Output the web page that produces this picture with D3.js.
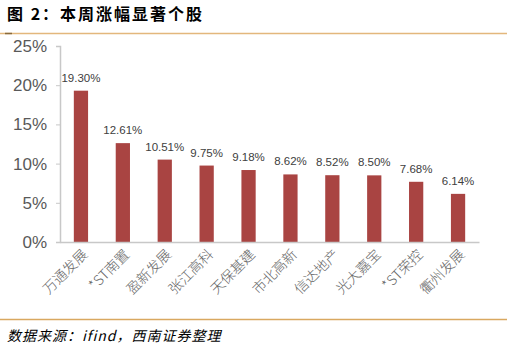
<!DOCTYPE html>
<html lang="zh">
  <head>
    <meta charset="utf-8">
    <title>本周涨幅显著个股</title>
    <script type="text/javascript" src="https://cdn.jsdelivr.net/npm/d3@7"></script>
    <style>
      body { margin: 0; background: #fff; }
      svg { display: block; }
      .title { font-family: "Noto Sans CJK SC", sans-serif; font-weight: bold; font-size: 16px; letter-spacing: 2px; fill: #000; }
      .source { font-family: "Noto Sans CJK SC", sans-serif; font-style: italic; font-size: 14px; letter-spacing: 1px; fill: #000; }
      .axis-text { font-family: "Liberation Sans", Arial, sans-serif; font-size: 17px; fill: #595959; }
      .x-text { font-family: "Noto Sans CJK SC", sans-serif; font-size: 14px; font-weight: 300; fill: #666; }
      .bar-label { font-family: "Liberation Sans", Arial, sans-serif; font-size: 11.5px; fill: #404040; }
    </style>
  </head>
  <body>
    <script type="text/javascript">
      var stocks = ["万通发展", "*ST南置", "盈新发展", "张江高科", "天保基建", "市北高新", "信达地产", "光大嘉宝", "*ST荣控", "衢州发展"];
      var gains = [19.30, 12.61, 10.51, 9.75, 9.18, 8.62, 8.52, 8.50, 7.68, 6.14];
      var yTicks = [0, 5, 10, 15, 20, 25];

      var w = 507;
      var h = 351;
      var plotLeft = 60, plotRight = 479, plotTop = 46, plotBottom = 242;

      var svg = d3.select("body")
        .append("svg")
        .attr("width", w)
        .attr("height", h);

      // title and rules
      svg.append("text")
        .attr("class", "title")
        .attr("x", 7)
        .attr("y", 20)
        .text("图 2：本周涨幅显著个股");

      svg.append("line")
        .attr("x1", 0).attr("x2", w)
        .attr("y1", 33.5).attr("y2", 33.5)
        .attr("stroke", "#e3b77c")
        .attr("stroke-width", 1.5);
      svg.append("line")
        .attr("x1", 5).attr("x2", 12)
        .attr("y1", 33.5).attr("y2", 33.5)
        .attr("stroke", "#8a6a3a")
        .attr("stroke-width", 1.5);

      svg.append("line")
        .attr("x1", 0).attr("x2", w)
        .attr("y1", 319.5).attr("y2", 319.5)
        .attr("stroke", "#d9a860")
        .attr("stroke-width", 1.5);

      svg.append("text")
        .attr("class", "source")
        .attr("x", 7)
        .attr("y", 341)
        .text("数据来源：ifind，西南证券整理");

      var xScale = d3.scaleBand()
        .domain(stocks)
        .range([plotLeft, plotRight])
        .paddingInner(0.66)
        .paddingOuter(0.33);

      var yScale = d3.scaleLinear()
        .domain([0, 25])
        .range([plotBottom, plotTop]);

      // y axis
      var yAxis = d3.axisLeft(yScale)
        .tickValues(yTicks)
        .tickSize(4)
        .tickPadding(9)
        .tickFormat(function(d) { return d + "%"; });

      var gy = svg.append("g")
        .attr("transform", "translate(" + plotLeft + ",0)")
        .call(yAxis);
      gy.attr("font-family", null).attr("font-size", null);
      gy.select(".domain").attr("stroke", "#c8c8c8").attr("stroke-width", 1.5);
      gy.selectAll(".tick line").attr("stroke", "#c8c8c8");
      gy.selectAll("text").attr("class", "axis-text").attr("fill", null);

      // bars
      svg.selectAll("rect.bar")
        .data(gains)
        .enter()
        .append("rect")
        .attr("class", "bar")
        .attr("x", function(d, i) { return xScale(stocks[i]); })
        .attr("y", function(d) { return yScale(d); })
        .attr("width", xScale.bandwidth())
        .attr("height", function(d) { return plotBottom - yScale(d); })
        .attr("fill", "#a94442");

      svg.selectAll("text.bar-label")
        .data(gains)
        .enter()
        .append("text")
        .attr("class", "bar-label")
        .attr("text-anchor", "middle")
        .attr("x", function(d, i) { return xScale(stocks[i]) + xScale.bandwidth() / 2; })
        .attr("y", function(d) { return yScale(d) - 9; })
        .text(function(d) { return d.toFixed(2) + "%"; });

      // x axis
      var xAxis = d3.axisBottom(xScale).tickSize(0).tickPadding(0);
      var gx = svg.append("g")
        .attr("transform", "translate(0," + plotBottom + ")")
        .call(xAxis);
      gx.attr("font-family", null).attr("font-size", null);
      gx.select(".domain").attr("stroke", "#c8c8c8").attr("stroke-width", 1.5);
      gx.selectAll("text")
        .attr("class", "x-text")
        .attr("fill", null)
        .attr("text-anchor", "end")
        .attr("dy", "0.35em")
        .attr("transform", "translate(4,10) rotate(-45)");
    </script>
  </body>
</html>
